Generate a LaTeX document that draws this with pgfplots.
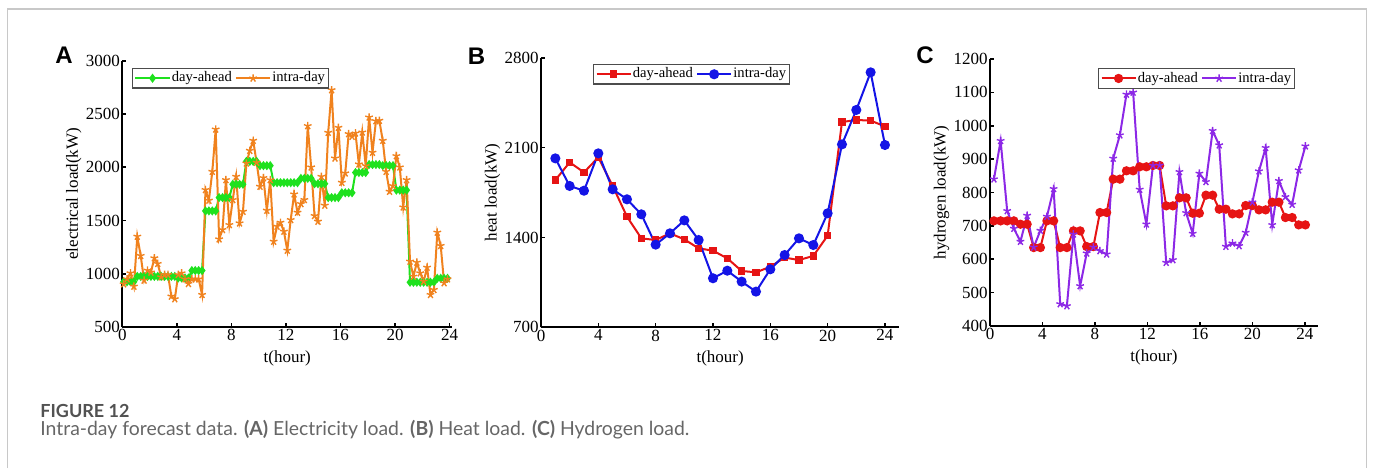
\documentclass[border=0pt]{standalone}
\usepackage{fontspec}
\setmainfont{Liberation Serif}
\newfontfamily\lettfont{Liberation Sans}
\newfontfamily\capfont{Lato}
\usepackage{pgfplots}
\usepackage{pgfplotstable}
\pgfplotsset{compat=1.18}

\definecolor{dagreen}{RGB}{30,225,30}
\definecolor{idorange}{RGB}{240,130,30}
\definecolor{bred}{RGB}{230,20,20}
\definecolor{bblue}{RGB}{20,20,230}
\definecolor{cpurple}{RGB}{140,40,230}
\definecolor{framegray}{RGB}{200,200,200}

% electricity load, 15 min steps
\pgfplotstableread{
t     da    id
0.10  925   903
0.35  925   950
0.60  925   1006
0.85  925   881
1.10  975   1350
1.35  975   1169
1.60  975   938
1.85  975   1031
2.10  975   1013
2.35  975   1147
2.60  975   1094
2.85  975   969
3.10  975   991
3.35  975   991
3.60  975   788
3.85  975   763
4.10  960   991
4.35  960   1006
4.60  960   950
4.85  960   906
5.10  1030  950
5.35  1030  950
5.60  1030  950
5.85  1030  803
6.10  1590  1788
6.35  1590  1688
6.60  1590  1959
6.85  1590  2356
7.10  1715  1325
7.35  1715  1413
7.60  1715  1881
7.85  1715  1459
8.10  1840  1694
8.35  1840  1912
8.60  1840  1475
8.85  1840  1584
9.10  2055  2037
9.35  2055  2156
9.60  2055  2250
9.85  2055  2044
10.10 2015  1819
10.35 2015  1900
10.60 2015  1594
10.85 2015  1881
11.10 1855  1303
11.35 1855  1444
11.60 1855  1481
11.85 1855  1397
12.10 1855  1219
12.35 1855  1506
12.60 1855  1747
12.85 1855  1575
13.10 1895  1656
13.35 1895  1694
13.60 1895  2388
13.85 1895  2000
14.10 1845  1544
14.35 1845  1491
14.60 1845  1912
14.85 1845  1641
15.10 1715  2325
15.35 1715  2725
15.60 1715  2084
15.85 1715  2372
16.10 1760  1856
16.35 1760  1944
16.60 1760  2313
16.85 1760  2288
17.10 1950  2319
17.35 1950  2028
17.60 1950  2328
17.85 1950  2013
18.10 2025  2469
18.35 2025  2138
18.60 2025  2434
18.85 2025  2438
19.10 2015  2250
19.35 2015  1959
19.60 2015  1772
19.85 2015  1825
20.10 1785  2106
20.35 1785  2000
20.60 1785  1625
20.85 1785  1881
21.10 920   1116
21.35 920   975
21.60 920   1106
21.85 920   1006
22.10 920   928
22.35 920   1059
22.60 920   803
22.85 920   850
23.10 957   1388
23.35 957   1263
23.60 957   913
23.85 957   950
}\elec

% heat load, hourly
\pgfplotstableread{
t   da    id
1   1847  2016
2   1985  1801
3   1907  1764
4   2024  2055
5   1801  1775
6   1562  1697
7   1393  1580
8   1380  1344
9   1432  1432
10  1385  1533
11  1315  1380
12  1297  1082
13  1237  1141
14  1139  1056
15  1128  978
16  1172  1152
17  1243  1263
18  1224  1393
19  1256  1341
20  1414  1588
21  2299  2125
22  2315  2393
23  2310  2686
24  2265  2120
}\heat

% hydrogen load, 30 min steps
\pgfplotstableread{
t      da   id
0.30   715  840
0.81   715  955
1.31   715  745
1.82   715  692
2.32   705  653
2.83   705  731
3.33   635  636
3.84   635  686
4.34   715  728
4.85   715  811
5.35   635  466
5.86   635  460
6.36   685  675
6.87   685  520
7.37   638  618
7.88   638  636
8.38   740  625
8.89   740  615
9.39   840  902
9.90   840  972
10.40  865  1094
10.91  865  1100
11.41  877  809
11.92  877  705
12.42  881  881
12.93  881  881
13.43  760  590
13.94  760  598
14.44  784  862
14.95  784  739
15.45  738  677
15.96  738  857
16.46  792  832
16.97  792  985
17.47  750  942
17.98  750  638
18.48  736  648
18.99  736  640
19.49  761  680
20.00  761  771
20.50  748  864
21.01  748  934
21.51  771  703
22.02  771  835
22.52  725  787
23.03  725  764
23.53  703  867
24.04  703  939
}\hydro

\pgfplotsset{panel/.style={
  scale only axis,
  axis x line*=bottom,
  axis y line*=left,
  axis line style={line width=1pt, -},
  tick align=inside,
  major tick length=2pt,
  tick style={line width=0.8pt, black},
  xmin=0,
  xtick={0,4,...,24},
  tick label style={font=\fontsize{8.5}{10}\selectfont},
  label style={font=\fontsize{8.5}{10}\selectfont},
  xticklabel style={inner sep=1pt},
  yticklabel style={inner sep=1pt},
  /pgf/number format/assume math mode=true,
  /pgf/number format/1000 sep={},
  xlabel={t(hour)},
  xlabel style={inner sep=0pt, yshift=-3.5pt},
  ylabel style={inner sep=1pt},
  legend style={font=\fontsize{7.3}{8}\selectfont, draw=black!70, line width=0.6pt,
    anchor=north west, inner sep=1pt, row sep=-1pt,
    nodes={inner sep=0.6pt},
    /tikz/every even column/.append style={column sep=1pt}},
  legend columns=2,
  legend cell align=left,
}}

\begin{document}
\begin{tikzpicture}
\useasboundingbox (0,0) rectangle (686.5pt,234pt);
\draw[framegray, line width=0.75pt] (3.75pt,0pt) -- (3.75pt,229.5pt) -- (683.25pt,229.5pt) -- (683.25pt,0pt);

% panel A
\begin{axis}[panel, at={(61.15pt,70.5pt)}, anchor=south west,
  width=165pt, height=133.15pt,
  xmax=24.2, ymin=500, ymax=3000,
  ytick={500,1000,...,3000},
  ylabel={electrical load(kW)},
  legend style={at={(0.029,0.973)}},
]
\addplot[dagreen, line width=1pt, mark=diamond*, mark size=1.5pt] table[x=t, y=da] {\elec};
\addlegendentry{day-ahead}
\addplot[idorange, line width=1pt, mark=star, mark size=2pt, mark options={line width=0.7pt}] table[x=t, y=id] {\elec};
\addlegendentry{intra-day}
\end{axis}

% panel B
\begin{axis}[panel, at={(270.5pt,70.35pt)}, anchor=south west,
  width=179.15pt, height=134.8pt,
  xmax=25, ymin=700, ymax=2800,
  ytick={700,1400,2100,2800},
  ylabel={heat load(kW)},
  legend style={at={(0.145,0.977)}},
]
\addplot[bred, line width=1pt, mark=square*, mark size=1.4pt] table[x=t, y=da] {\heat};
\addlegendentry{day-ahead}
\addplot[bblue, line width=1pt, mark=*, mark size=2pt] table[x=t, y=id] {\heat};
\addlegendentry{intra-day}
\end{axis}

% panel C
\begin{axis}[panel, at={(495pt,71pt)}, anchor=south west,
  width=164pt, height=133.5pt,
  xmax=25, ymin=400, ymax=1200,
  ytick={400,500,...,1200},
  ylabel={hydrogen load(kW)},
  legend style={at={(0.329,0.966)}},
]
\addplot[bred, line width=1pt, mark=*, mark size=1.8pt] table[x=t, y=da] {\hydro};
\addlegendentry{day-ahead}
\addplot[cpurple, line width=1pt, mark=star, mark size=2pt, mark options={line width=0.7pt}] table[x=t, y=id] {\hydro};
\addlegendentry{intra-day}
\end{axis}

\node[font=\lettfont\bfseries\fontsize{12}{12}\selectfont] at (32pt,206.3pt) {A};
\node[font=\lettfont\bfseries\fontsize{12}{12}\selectfont] at (238.25pt,206pt) {B};
\node[font=\lettfont\bfseries\fontsize{12}{12}\selectfont] at (462.5pt,206.25pt) {C};

\node[anchor=base west, inner sep=0pt, text=black!68, font=\capfont\bfseries\fontsize{9}{11}\selectfont] at (20pt,25.5pt) {FIGURE 12};
\node[anchor=base west, inner sep=0pt, text=black!60, font=\capfont\fontsize{9.7}{11}\selectfont] at (20pt,16.5pt)
  {Intra-day forecast data. \textbf{(A)} Electricity load. \textbf{(B)} Heat load. \textbf{(C)} Hydrogen load.};
\end{tikzpicture}
\end{document}
